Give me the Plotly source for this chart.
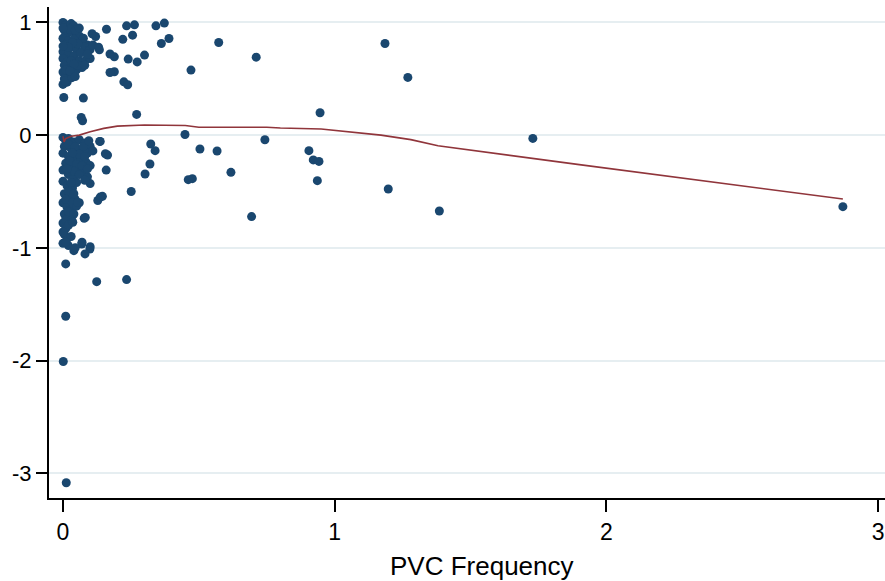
import plotly.graph_objects as go

# Scatter points: PVC frequency (x) vs outcome (y)
pvc_x = [
    # positive dense cluster near 0
    0.0, 0.01, 0.02, 0.03, 0.04, 0.005, 0.015, 0.03, 0.05, 0.06, 0.0, 0.02, 0.04, 0.07, 0.09,
    0.01, 0.03, 0.05, 0.08, 0.1, 0.0, 0.02, 0.04, 0.0, 0.015, 0.06, 0.085, 0.1, 0.005, 0.03,
    0.05, 0.07, 0.0, 0.02, 0.04, 0.005, 0.015, 0.0, 0.035, 0.055, 0.008, 0.033,
    0.025, 0.045, 0.06, 0.075, 0.055, 0.035, 0.02, 0.065, 0.09, 0.11, 0.08, 0.03, 0.04,
    0.01, 0.025, 0.045, 0.0, 0.0,
    # positive scattered
    0.16, 0.12, 0.134, 0.189, 0.189, 0.22, 0.234, 0.256, 0.263, 0.24, 0.273, 0.3, 0.224, 0.238,
    0.342, 0.373, 0.362, 0.39, 0.471, 0.573, 0.711, 0.131, 0.107, 0.173, 0.173,
    0.075, 0.003, 0.067, 0.072, 0.271, 0.946, 1.185, 1.269,
    # negative dense cluster near 0
    0.0, 0.01, 0.02, 0.04, 0.06, 0.08, 0.1, 0.005, 0.03, 0.05, 0.07, 0.09, 0.0, 0.02, 0.045,
    0.065, 0.085, 0.1, 0.01, 0.03, 0.0, 0.055, 0.075, 0.09, 0.1, 0.02, 0.04, 0.0, 0.015, 0.035,
    0.005, 0.025, 0.045, 0.06, 0.0, 0.015, 0.03, 0.005, 0.02, 0.0, 0.01, 0.005, 0.015, 0.0,
    0.02, 0.03,
    0.02, 0.045, 0.075, 0.095, 0.11, 0.06, 0.08, 0.035, 0.025, 0.05, 0.07, 0.09, 0.04, 0.015,
    0.06, 0.08, 0.05, 0.03, 0.02, 0.04, 0.01, 0.035, 0.05, 0.02, 0.04, 0.01, 0.02, 0.0, 0.01,
    # negative scattered
    0.449, 0.135, 0.137, 0.164, 0.156, 0.159, 0.323, 0.339, 0.32, 0.302, 0.251, 0.128, 0.145,
    0.137, 0.504, 0.567, 0.461, 0.476, 0.618, 0.743, 0.694, 0.078, 0.082, 0.033, 0.069, 0.07,
    0.099, 0.1, 0.081, 0.04, 0.045, 0.036, 0.054, 0.01, 0.124, 0.234, 0.01, 0.001, 0.012,
    0.905, 0.921, 0.942, 0.936, 1.197, 1.385, 1.729, 2.87,
]
outcome_y = [
    1.0, 0.98, 0.96, 0.99, 0.97, 0.93, 0.9, 0.92, 0.9, 0.88, 0.86, 0.84, 0.85, 0.83, 0.8,
    0.8, 0.78, 0.76, 0.78, 0.76, 0.74, 0.72, 0.7, 0.68, 0.65, 0.66, 0.67, 0.68, 0.62, 0.6,
    0.58, 0.6, 0.56, 0.54, 0.55, 0.5, 0.47, 0.45, 0.52, 0.62, 0.48, 0.51,
    0.94, 0.93, 0.95, 0.86, 0.81, 0.82, 0.78, 0.73, 0.72, 0.8, 0.62, 0.66, 0.63,
    0.58, 0.57, 0.52, 0.79, 0.95,
    0.94, 0.875, 0.757, 0.695, 0.562, 0.85, 0.97, 0.887, 0.979, 0.675, 0.65, 0.71, 0.473, 0.447,
    0.97, 0.994, 0.813, 0.857, 0.577, 0.822, 0.692, 0.78, 0.9, 0.72, 0.556,
    0.329, 0.334, 0.157, 0.128, 0.184, 0.199, 0.813, 0.512,
    -0.02, -0.05, -0.03, -0.06, -0.04, -0.07, -0.1, -0.1, -0.12, -0.13, -0.14, -0.16, -0.16, -0.19, -0.2,
    -0.22, -0.24, -0.27, -0.25, -0.28, -0.31, -0.3, -0.33, -0.37, -0.43, -0.35, -0.38, -0.41, -0.45, -0.47,
    -0.52, -0.55, -0.57, -0.6, -0.6, -0.64, -0.66, -0.7, -0.73, -0.78, -0.83, -0.88, -0.92, -0.96,
    -0.98, -0.9,
    -0.08, -0.1, -0.1, -0.05, -0.14, -0.17, -0.19, -0.16, -0.23, -0.26, -0.27, -0.3, -0.32, -0.3,
    -0.35, -0.4, -0.42, -0.42, -0.5, -0.52, -0.57, -0.6, -0.63, -0.68, -0.7, -0.75, -0.8, -0.86, -0.95,
    0.006, -0.056, -0.056, -0.177, -0.165, -0.31, -0.079, -0.138, -0.256, -0.345, -0.5, -0.58, -0.543,
    -0.55, -0.123, -0.141, -0.395, -0.386, -0.33, -0.041, -0.723, -0.738, -0.73, -0.756, -0.966, -0.95,
    -1.01, -0.99, -1.054, -1.025, -1.0, -0.774, -0.597, -1.143, -1.3, -1.282, -1.607, -2.009, -3.085,
    -0.138, -0.22, -0.233, -0.404, -0.478, -0.673, -0.029, -0.635,
]

# Lowess smoother
lowess_x = [0.0, 0.004, 0.01, 0.03, 0.06, 0.1, 0.15, 0.2, 0.3, 0.45, 0.5, 0.75, 0.8,
            0.95, 1.17, 1.28, 1.38, 1.83, 1.9, 2.87]
lowess_y = [-0.01, -0.06, -0.03, -0.01, 0.0, 0.03, 0.06, 0.08, 0.09, 0.085, 0.07, 0.07, 0.063,
            0.054, 0.0, -0.04, -0.094, -0.242, -0.262, -0.567]

x_ticks = [0, 1, 2, 3]
y_ticks = [-3, -2, -1, 0, 1]

FONT = "Liberation Sans, Arial, sans-serif"

fig = go.Figure()
fig.add_trace(go.Scatter(
    x=pvc_x, y=outcome_y, mode="markers",
    marker=dict(color="#1a476f", size=9, line=dict(width=0)),
    showlegend=False,
))
fig.add_trace(go.Scatter(
    x=lowess_x, y=lowess_y, mode="lines",
    line=dict(color="#90353b", width=1.6),
    showlegend=False,
))

fig.update_layout(
    width=885, height=581,
    margin=dict(l=49, r=0, t=7, b=83),
    plot_bgcolor="white", paper_bgcolor="white",
    font=dict(family=FONT, size=22, color="black"),
    xaxis=dict(
        range=[-0.0515, 3.025], tickvals=x_ticks, ticktext=[str(v) for v in x_ticks],
        showgrid=False, zeroline=False, automargin=False,
        showline=True, linecolor="black", linewidth=2,
        ticks="outside", ticklen=12, tickwidth=2, tickcolor="black",
        tickfont=dict(size=23),
    ),
    yaxis=dict(
        range=[-3.22, 1.137], tickvals=y_ticks, ticktext=[str(v) for v in y_ticks],
        showgrid=True, gridcolor="#e6eef1", gridwidth=1.5, zeroline=False, automargin=False,
        showline=True, linecolor="black", linewidth=2,
        ticks="outside", ticklen=11, tickwidth=2, tickcolor="black",
        tickfont=dict(size=22),
    ),
    annotations=[dict(
        text="PVC Frequency", xref="paper", yref="paper", x=0.5185, y=0,
        xanchor="center", yanchor="middle", yshift=-68, showarrow=False,
        font=dict(size=26, family=FONT, color="black"),
    )],
)

fig.write_html(
    "out.html",
    config={"displayModeBar": False},
    post_script="document.body.style.margin='0';document.body.style.overflow='hidden';",
)
